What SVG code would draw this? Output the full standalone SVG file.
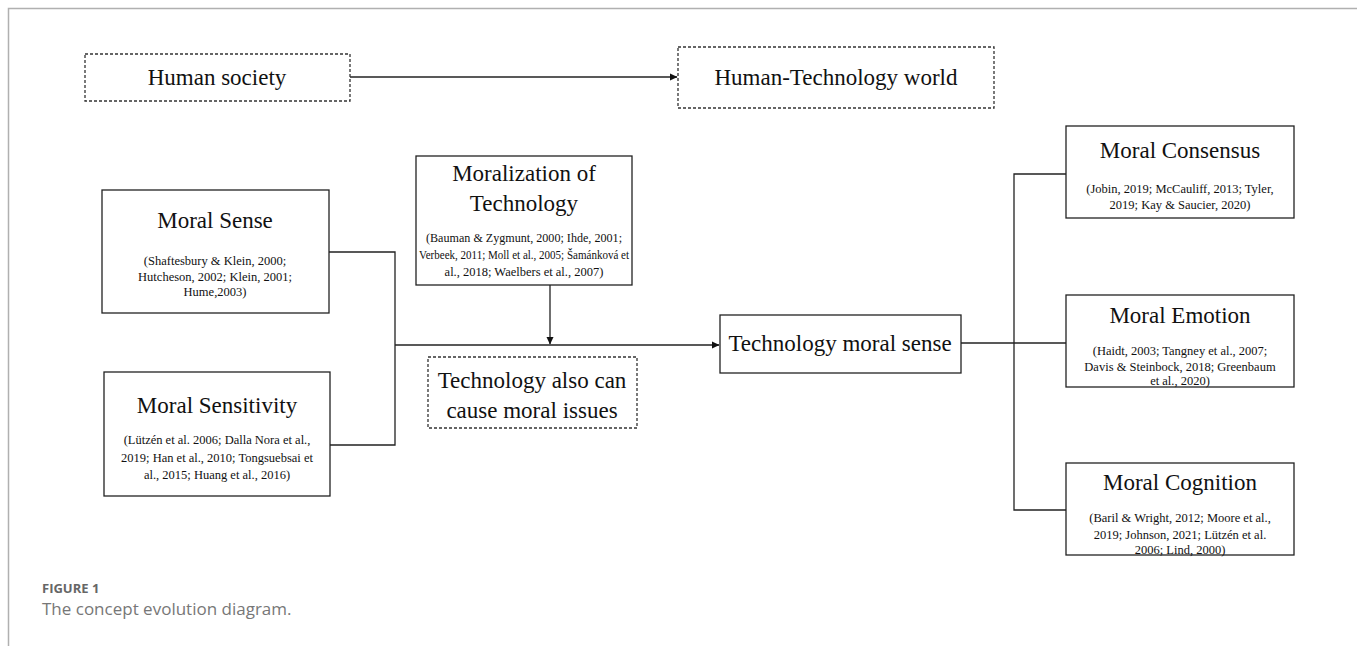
<svg xmlns="http://www.w3.org/2000/svg" width="1357" height="646" viewBox="0 0 1357 646">
<defs>
<style>
.box{fill:#fff;stroke:#222;stroke-width:1.3}
.dash{fill:#fff;stroke:#333;stroke-width:1.3;stroke-dasharray:3 2}
.t{font-family:"Liberation Serif","Times New Roman",serif;font-size:23px;fill:#111;text-anchor:middle}
.c{font-family:"Liberation Serif","Times New Roman",serif;font-size:12.5px;fill:#111;text-anchor:middle}
.ln{fill:none;stroke:#222;stroke-width:1.3}
.cap1{font-family:"Open Sans","Lato",sans-serif;font-size:13px;font-weight:bold;fill:#666}
.cap2{font-family:"Open Sans","Lato",sans-serif;font-size:17px;fill:#777}
</style>
<marker id="ah" markerWidth="8" markerHeight="8" refX="7" refY="4" orient="auto" markerUnits="userSpaceOnUse">
<path d="M0,0.5 L7.5,4 L0,7.5 Z" fill="#111"/>
</marker>
</defs>
<rect width="1357" height="646" fill="#fff"/>
<path d="M8.5,646 V8.5 H1357" fill="none" stroke="#b0b0b0" stroke-width="1.5"/>

<g id="connectors">
<line class="ln" x1="350" y1="77" x2="677" y2="77" marker-end="url(#ah)"/>
<polyline class="ln" points="329,252 395,252 395,445 330,445"/>
<line class="ln" x1="395" y1="345" x2="719" y2="345" marker-end="url(#ah)"/>
<line class="ln" x1="550" y1="285" x2="550" y2="344" marker-end="url(#ah)"/>
<line class="ln" x1="961" y1="343" x2="1066" y2="343"/>
<polyline class="ln" points="1066,174 1014,174 1014,510 1066,510"/>
</g>

<g id="human-society">
<rect class="dash" x="85" y="54" width="265" height="47"/>
<text class="t" x="217" y="85">Human society</text>
</g>

<g id="human-technology-world">
<rect class="dash" x="678" y="47" width="316" height="61"/>
<text class="t" x="836" y="85">Human-Technology world</text>
</g>

<g id="moral-sense">
<rect class="box" x="102" y="190" width="227" height="123"/>
<text class="t" x="215" y="228">Moral Sense</text>
<text class="c" x="215" y="265">(Shaftesbury &amp; Klein, 2000;</text>
<text class="c" x="215" y="281">Hutcheson, 2002; Klein, 2001;</text>
<text class="c" x="215" y="296">Hume,2003)</text>
</g>

<g id="moral-sensitivity">
<rect class="box" x="104" y="372" width="226" height="124"/>
<text class="t" x="217" y="413">Moral Sensitivity</text>
<text class="c" x="217" y="444">(Lützén et al. 2006; Dalla Nora et al.,</text>
<text class="c" x="217" y="462">2019; Han et al., 2010; Tongsuebsai et</text>
<text class="c" x="217" y="479">al., 2015; Huang et al., 2016)</text>
</g>

<g id="moralization-of-technology">
<rect class="box" x="416" y="156" width="216" height="129"/>
<text class="t" x="524" y="181">Moralization of</text>
<text class="t" x="524" y="211">Technology</text>
<text class="c" x="524" y="242" textLength="196" lengthAdjust="spacingAndGlyphs">(Bauman &amp; Zygmunt, 2000; Ihde, 2001;</text>
<text class="c" x="524" y="259" textLength="210" lengthAdjust="spacingAndGlyphs">Verbeek, 2011; Moll et al., 2005; Šamánková et</text>
<text class="c" x="524" y="276">al., 2018; Waelbers et al., 2007)</text>
</g>

<g id="technology-moral-issues">
<rect class="dash" x="428" y="357" width="209" height="71"/>
<text class="t" x="532" y="388">Technology also can</text>
<text class="t" x="532" y="418">cause moral issues</text>
</g>

<g id="technology-moral-sense">
<rect class="box" x="720" y="315" width="241" height="58"/>
<text class="t" x="840" y="351">Technology moral sense</text>
</g>

<g id="moral-consensus">
<rect class="box" x="1066" y="126" width="228" height="92"/>
<text class="t" x="1180" y="158">Moral Consensus</text>
<text class="c" x="1180" y="193">(Jobin, 2019; McCauliff, 2013; Tyler,</text>
<text class="c" x="1180" y="209">2019; Kay &amp; Saucier, 2020)</text>
</g>

<g id="moral-emotion">
<rect class="box" x="1066" y="295" width="228" height="92"/>
<text class="t" x="1180" y="323">Moral Emotion</text>
<text class="c" x="1180" y="355">(Haidt, 2003; Tangney et al., 2007;</text>
<text class="c" x="1180" y="371">Davis &amp; Steinbock, 2018; Greenbaum</text>
<text class="c" x="1180" y="385">et al., 2020)</text>
</g>

<g id="moral-cognition">
<rect class="box" x="1066" y="463" width="228" height="92"/>
<text class="t" x="1180" y="490">Moral Cognition</text>
<text class="c" x="1180" y="522">(Baril &amp; Wright, 2012; Moore et al.,</text>
<text class="c" x="1180" y="539">2019; Johnson, 2021; Lützén et al.</text>
<text class="c" x="1180" y="554">2006; Lind, 2000)</text>
</g>

<g id="caption">
<text class="cap1" x="42" y="593">FIGURE 1</text>
<text class="cap2" x="42" y="615">The concept evolution diagram.</text>
</g>
</svg>
